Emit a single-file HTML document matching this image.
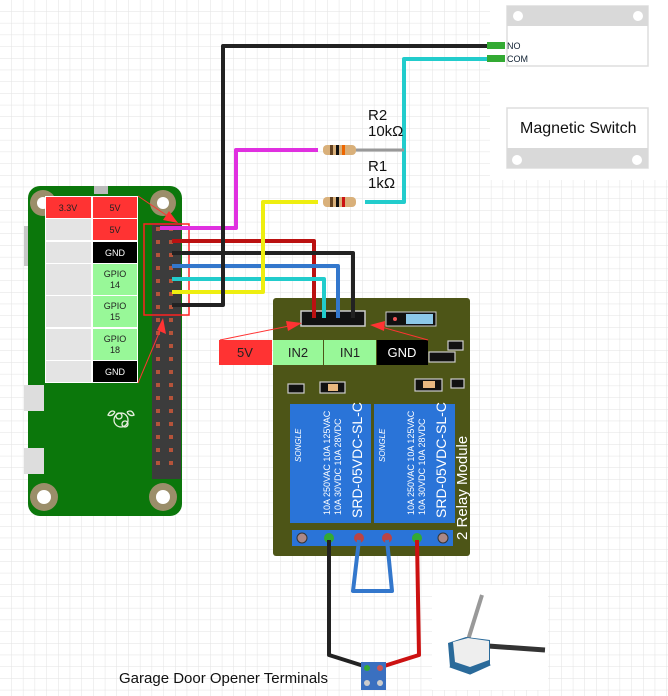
<!DOCTYPE html>
<html><head><meta charset="utf-8"><style>
html,body{margin:0;padding:0;background:#fff}
svg{display:block}
text{font-family:"Liberation Sans",sans-serif}
</style></head><body>
<svg width="668" height="696" viewBox="0 0 668 696" xmlns="http://www.w3.org/2000/svg">
<defs>
<pattern id="g" width="11.7" height="11.7" patternUnits="userSpaceOnUse">
<path d="M11.7 0V11.7H0" fill="none" stroke="#e2e2e2" stroke-width="1"/>
</pattern>
</defs>
<rect width="668" height="696" fill="url(#g)"/>

<!-- Magnetic switch -->
<rect x="490" y="0" width="178" height="180" fill="#fff"/>
<rect x="507" y="6" width="141" height="60" fill="#fff" stroke="#ddd" stroke-width="1.5"/>
<rect x="507" y="6" width="141" height="20" fill="#d9d9d9"/>
<circle cx="518" cy="16" r="5" fill="#fff"/><circle cx="638" cy="16" r="5" fill="#fff"/>
<text x="507" y="49" font-size="9" fill="#123">NO</text>
<text x="507" y="62" font-size="9" fill="#123">COM</text>
<rect x="507" y="108" width="141" height="60" fill="#fff" stroke="#ddd" stroke-width="1.5"/>
<rect x="507" y="148" width="141" height="20" fill="#d9d9d9"/>
<circle cx="517" cy="160" r="5" fill="#fff"/><circle cx="637" cy="160" r="5" fill="#fff"/>
<text x="520" y="133" font-size="16" fill="#111">Magnetic Switch</text>

<!-- Pi board -->
<rect x="24" y="226" width="20" height="40" fill="#c8c8c8"/>
<rect x="28" y="186" width="154" height="330" rx="12" fill="#0b770b"/>
<rect x="24" y="385" width="20" height="26" fill="#ddd"/>
<rect x="24" y="448" width="20" height="26" fill="#ddd"/>
<rect x="94" y="186" width="14" height="8" fill="#bbb"/>
<g fill="#9b8e6a"><circle cx="43" cy="203" r="13"/><circle cx="163" cy="203" r="13"/><circle cx="44" cy="497" r="14"/><circle cx="163" cy="497" r="14"/></g>
<g fill="#fff"><circle cx="43" cy="203" r="6"/><circle cx="163" cy="203" r="6"/><circle cx="44" cy="497" r="7"/><circle cx="163" cy="497" r="7"/></g>
<rect x="152" y="223" width="29" height="256" fill="#3c3c3c"/>
<g fill="#b5533a">
<rect x="156" y="227" width="4" height="4"/><rect x="169" y="227" width="4" height="4"/>
<rect x="156" y="240" width="4" height="4"/><rect x="169" y="240" width="4" height="4"/>
<rect x="156" y="253" width="4" height="4"/><rect x="169" y="253" width="4" height="4"/>
<rect x="156" y="266" width="4" height="4"/><rect x="169" y="266" width="4" height="4"/>
<rect x="156" y="279" width="4" height="4"/><rect x="169" y="279" width="4" height="4"/>
<rect x="156" y="292" width="4" height="4"/><rect x="169" y="292" width="4" height="4"/>
<rect x="156" y="305" width="4" height="4"/><rect x="169" y="305" width="4" height="4"/>
<rect x="156" y="318" width="4" height="4"/><rect x="169" y="318" width="4" height="4"/>
<rect x="156" y="331" width="4" height="4"/><rect x="169" y="331" width="4" height="4"/>
<rect x="156" y="344" width="4" height="4"/><rect x="169" y="344" width="4" height="4"/>
<rect x="156" y="357" width="4" height="4"/><rect x="169" y="357" width="4" height="4"/>
<rect x="156" y="370" width="4" height="4"/><rect x="169" y="370" width="4" height="4"/>
<rect x="156" y="383" width="4" height="4"/><rect x="169" y="383" width="4" height="4"/>
<rect x="156" y="396" width="4" height="4"/><rect x="169" y="396" width="4" height="4"/>
<rect x="156" y="409" width="4" height="4"/><rect x="169" y="409" width="4" height="4"/>
<rect x="156" y="422" width="4" height="4"/><rect x="169" y="422" width="4" height="4"/>
<rect x="156" y="435" width="4" height="4"/><rect x="169" y="435" width="4" height="4"/>
<rect x="156" y="448" width="4" height="4"/><rect x="169" y="448" width="4" height="4"/>
<rect x="156" y="461" width="4" height="4"/><rect x="169" y="461" width="4" height="4"/>
</g>
<g fill="none" stroke="#e8f0e0" stroke-width="1.3"><circle cx="121" cy="420" r="7"/><circle cx="119" cy="416" r="3"/><circle cx="125" cy="424" r="3"/><path d="M127 412q5-3 7 3q-4 2-7-3M115 412q-4-3-7 3q4 2 7-3"/></g>

<!-- Pin label table -->
<rect x="45" y="196" width="93" height="187" fill="#fff"/>
<rect x="46" y="197" width="45" height="21" fill="#f33"/>
<rect x="93" y="197" width="44" height="21" fill="#f33"/>
<rect x="46" y="219" width="45" height="21" fill="#e4e4e4"/>
<rect x="93" y="219" width="44" height="21" fill="#f33"/>
<rect x="46" y="242" width="45" height="21" fill="#e4e4e4"/>
<rect x="93" y="242" width="44" height="21" fill="#000"/>
<rect x="46" y="264" width="45" height="31" fill="#e4e4e4"/>
<rect x="93" y="264" width="44" height="31" fill="#98f898"/>
<rect x="46" y="296" width="45" height="31" fill="#e4e4e4"/>
<rect x="93" y="296" width="44" height="31" fill="#98f898"/>
<rect x="46" y="329" width="45" height="31" fill="#e4e4e4"/>
<rect x="93" y="329" width="44" height="31" fill="#98f898"/>
<rect x="46" y="361" width="45" height="21" fill="#e4e4e4"/>
<rect x="93" y="361" width="44" height="21" fill="#000"/>
<g font-size="9" text-anchor="middle" fill="#222">
<text x="68" y="211">3.3V</text><text x="115" y="211">5V</text><text x="115" y="233">5V</text>
<text x="115" y="256" fill="#fff">GND</text>
<text x="115" y="277">GPIO</text><text x="115" y="288">14</text>
<text x="115" y="309">GPIO</text><text x="115" y="320">15</text>
<text x="115" y="342">GPIO</text><text x="115" y="353">18</text>
<text x="115" y="375" fill="#fff">GND</text>
</g>
<rect x="144" y="224" width="45" height="91" fill="none" stroke="#f22" stroke-width="1.5"/>

<!-- Relay board -->
<rect x="273" y="298" width="197" height="258" rx="3" fill="#4d5517"/>
<rect x="301" y="311" width="64" height="15" fill="#111" stroke="#ccc" stroke-width="1.5"/>
<rect x="386" y="312" width="50" height="14" fill="#111" stroke="#ccc"/>
<rect x="406" y="314" width="27" height="10" fill="#8cc8e8"/>
<circle cx="395" cy="319" r="2" fill="#e55"/>
<g fill="#111" stroke="#ccc" stroke-width="1.2">
<rect x="288" y="384" width="16" height="9"/><rect x="320" y="382" width="25" height="11"/>
<rect x="429" y="352" width="26" height="10"/><rect x="448" y="341" width="15" height="9"/>
<rect x="415" y="379" width="27" height="12"/><rect x="451" y="379" width="13" height="9"/>
</g>
<rect x="328" y="384" width="10" height="7" fill="#e8b880"/><rect x="423" y="381" width="12" height="7" fill="#e8b880"/>
<rect x="290" y="404" width="81" height="119" fill="#2a74d8"/>
<rect x="374" y="404" width="81" height="119" fill="#2a74d8"/>
<g fill="#fff" font-size="9">
<text transform="translate(330,515) rotate(-90)">10A 250VAC  10A 125VAC</text>
<text transform="translate(341,515) rotate(-90)">10A  30VDC  10A  28VDC</text>
<text transform="translate(362,518) rotate(-90)" font-size="14">SRD-05VDC-SL-C</text>
<text transform="translate(414,515) rotate(-90)">10A 250VAC  10A 125VAC</text>
<text transform="translate(425,515) rotate(-90)">10A  30VDC  10A  28VDC</text>
<text transform="translate(446,518) rotate(-90)" font-size="14">SRD-05VDC-SL-C</text>
<text transform="translate(467,540) rotate(-90)" font-size="15">2 Relay Module</text>
<text transform="translate(301,462) rotate(-90)" font-size="8" font-style="italic">SONGLE</text>
<text transform="translate(385,462) rotate(-90)" font-size="8" font-style="italic">SONGLE</text>
</g>
<rect x="292" y="530" width="161" height="16" fill="#2a74d8"/>
<g stroke="#333"><circle cx="302" cy="538" r="5" fill="#a88"/><circle cx="443" cy="538" r="5" fill="#a88"/></g>
<g><circle cx="329" cy="538" r="5" fill="#3a3"/><circle cx="359" cy="538" r="5" fill="#b44"/><circle cx="387" cy="538" r="5" fill="#b44"/><circle cx="417" cy="538" r="5" fill="#3a3"/></g>

<!-- label row -->
<rect x="219" y="340" width="53" height="25" fill="#f33"/>
<rect x="273" y="340" width="50" height="25" fill="#98f898"/>
<rect x="324" y="340" width="52" height="25" fill="#98f898"/>
<rect x="377" y="340" width="51" height="25" fill="#000"/>
<g font-size="13" text-anchor="middle" fill="#222"><text x="245" y="357">5V</text><text x="298" y="357">IN2</text><text x="350" y="357">IN1</text><text x="402" y="357" fill="#fff">GND</text></g>

<!-- arrows -->
<g stroke="#f33" stroke-width="1"><line x1="138" y1="196" x2="172" y2="219"/><line x1="138" y1="383" x2="162" y2="326"/><line x1="220" y1="340" x2="294" y2="325"/><line x1="428" y1="340" x2="378" y2="326"/></g>
<g fill="#f33"><path d="M178 223l-15-3l6-9z"/><path d="M163 318l3 16l-9-4z"/><path d="M302 323l-14 8l-2-10z"/><path d="M370 325l15-4l-1 10z"/></g>

<!-- wires -->
<g fill="none" stroke-linejoin="round" stroke-width="4">
<path d="M160 228H236V150H318" stroke="#e030e0"/>
<path d="M172 241H314V318" stroke="#bb1111"/>
<path d="M172 253H353V318" stroke="#222"/>
<path d="M172 266H338V318" stroke="#3377cc"/>
<path d="M172 279H324V318" stroke="#22cccc"/>
<path d="M172 292H263V202H318" stroke="#eeee10"/>
<path d="M172 305H223V46H495" stroke="#222"/>
<path d="M497 59H404V202H365" stroke="#22cccc"/>
<path d="M329 540V655L367 667" stroke="#222"/>
<path d="M417 540L419 655L381 667" stroke="#cc1111"/>
<path d="M359 540L353 591H392L387 540" stroke="#3377cc"/>
</g>
<line x1="356" y1="150" x2="404" y2="150" stroke="#999" stroke-width="3"/>
<g fill="#3a3"><rect x="487" y="42" width="18" height="7"/><rect x="487" y="55" width="18" height="7"/></g>
<g>
<rect x="323" y="145" width="33" height="10" rx="4" fill="#d9b07a"/>
<rect x="330" y="145" width="3" height="10" fill="#642"/><rect x="336" y="145" width="3" height="10" fill="#111"/><rect x="342" y="145" width="3" height="10" fill="#e60"/>
<rect x="323" y="197" width="33" height="10" rx="4" fill="#d9b07a"/>
<rect x="330" y="197" width="3" height="10" fill="#642"/><rect x="336" y="197" width="3" height="10" fill="#111"/><rect x="342" y="197" width="3" height="10" fill="#c11"/>
</g>
<g font-size="15" fill="#111"><text x="368" y="120">R2</text><text x="368" y="136">10kΩ</text><text x="368" y="171">R1</text><text x="368" y="188">1kΩ</text></g>

<!-- terminal -->
<rect x="361" y="662" width="25" height="28" fill="#3a70c0"/>
<circle cx="367" cy="668" r="3" fill="#3a3"/><circle cx="380" cy="668" r="3" fill="#c55"/>
<circle cx="367" cy="683" r="3" fill="#ccc"/><circle cx="380" cy="683" r="3" fill="#ccc"/>
<text x="119" y="683" font-size="15" fill="#111">Garage Door Opener Terminals</text>

<!-- garage opener -->
<rect x="432" y="585" width="116" height="105" fill="#fff"/>
<path d="M468 640L482 595" stroke="#999" stroke-width="4"/>
<path d="M488 646L545 650" stroke="#333" stroke-width="5"/>
<path d="M448 643L466 637L490 640L490 664L470 673L450 667z" fill="#2a6a9a"/>
<path d="M453 642L468 638L489 641L489 660L470 667L455 662z" fill="#eee"/>
<path d="M450 666L470 673L490 664" fill="none" stroke="#2a6a9a" stroke-width="3"/>
</svg>
</body></html>
